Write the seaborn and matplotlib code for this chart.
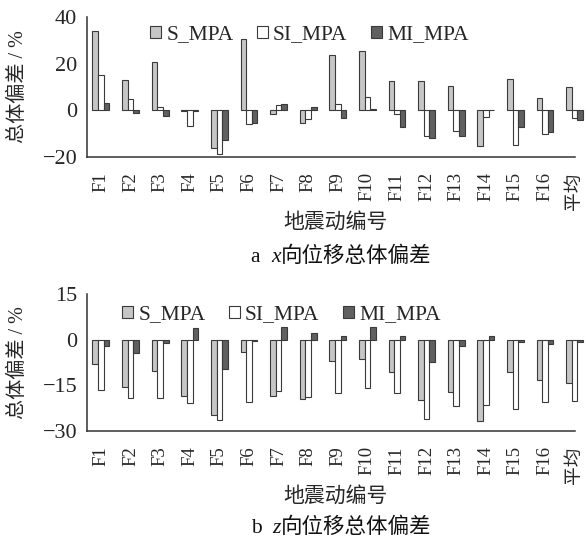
import numpy as np
import pandas as pd
import seaborn as sns
import matplotlib
matplotlib.use("Agg")
import matplotlib.pyplot as plt
from matplotlib.patches import Patch
from matplotlib.offsetbox import TextArea, HPacker, AnchoredOffsetbox

# Ground-motion records
categories = ["F1", "F2", "F3", "F4", "F5", "F6", "F7", "F8", "F9", "F10",
              "F11", "F12", "F13", "F14", "F15", "F16", "平均"]
series_names = ["S_MPA", "SI_MPA", "MI_MPA"]

# Overall deviation of x-direction displacement (%)
x_s_mpa = [34.0, 13.1, 20.6, -0.5, -16.2, 30.7, -1.6, -5.4, 23.5, 25.5,
           12.4, 12.7, 10.5, -15.2, 13.4, 5.4, 10.1]
x_si_mpa = [15.2, 4.8, 1.4, -6.8, -18.6, -5.8, 2.3, -3.6, 2.7, 5.5,
            -1.6, -10.8, -8.8, -2.7, -14.9, -10.2, -3.1]
x_mi_mpa = [3.0, -1.1, -2.6, -0.3, -12.9, -5.4, 2.8, 1.4, -3.1, 0.6,
            -7.1, -11.8, -11.2, 0.3, -7.1, -9.4, -4.1]

# Overall deviation of z-direction displacement (%)
z_s_mpa = [-7.9, -15.4, -10.3, -18.4, -24.9, -4.1, -18.4, -19.5, -7.0, -6.5,
           -10.5, -19.9, -17.3, -26.8, -10.7, -13.3, -14.3]
z_si_mpa = [-16.5, -19.2, -19.2, -20.9, -26.4, -20.5, -16.7, -18.7, -17.4, -16.0,
            -17.6, -25.9, -21.9, -21.6, -22.7, -20.5, -20.1]
z_mi_mpa = [-2.1, -4.3, -1.0, 3.8, -9.5, -0.3, 4.2, 2.3, 1.2, 4.0,
            1.3, -7.3, -2.1, 1.1, -0.8, -1.3, -0.7]

x_ticks = [-20, 0, 20, 40]
z_ticks = [-30, -15, 0, 15]

sns.set_style("white")
SERIF = ["Liberation Serif", "Noto Sans CJK SC"]
plt.rcParams["font.family"] = SERIF
plt.rcParams["axes.unicode_minus"] = True

colors = {"S_MPA": "#c6c6c6", "SI_MPA": "#ffffff", "MI_MPA": "#606060"}
edge = "#3a3a3a"


def long_frame(s, si, mi):
    rows = []
    for name, vals in zip(series_names, (s, si, mi)):
        for c, v in zip(categories, vals):
            rows.append({"record": c, "series": name, "value": v})
    return pd.DataFrame(rows)


fig = plt.figure(figsize=(5.86, 5.40), dpi=100)
W, H = 586, 540
left_px, right_px = 87, 585
xlo, xhi = -0.47, 16.35


def draw_panel(ax, df, yticks, legend_x_px, legend_y_px):
    sns.barplot(data=df, x="record", y="value", hue="series",
                order=categories, hue_order=series_names, palette=colors,
                width=0.57, gap=0, edgecolor=edge, linewidth=0.8,
                errorbar=None, legend=False, ax=ax)
    for p in ax.patches:
        p.set_clip_on(False)
    ax.set_xlim(xlo, xhi)
    ax.set_ylim(yticks[0], yticks[-1])
    ax.set_yticks(yticks)
    ax.set_xticks(range(len(categories)))
    ax.set_xticklabels(categories, rotation=90, fontsize=13.5)
    for lab in ax.get_yticklabels():
        lab.set_fontsize(16)
    ax.tick_params(axis="both", direction="in", length=5, width=1.0,
                   color="#333333")
    ax.tick_params(axis="x", pad=11)
    ax.tick_params(axis="y", pad=7)
    for side in ("top", "right"):
        ax.spines[side].set_visible(False)
    for side in ("left", "bottom"):
        ax.spines[side].set_color("#333333")
        ax.spines[side].set_linewidth(1.1)
    ax.spines["bottom"].set_bounds(xlo, len(categories) - 1)
    ax.set_ylabel("总体偏差 / %", fontsize=14.5)
    ax.yaxis.set_label_coords(-0.118, 0.5)
    ax.set_xlabel("地震动编号", fontsize=15, labelpad=2)

    handles = [Patch(facecolor=colors[n], edgecolor=edge, linewidth=0.8)
               for n in series_names]
    fig.legend(handles, series_names, loc="center left",
               bbox_to_anchor=(legend_x_px / W, 1 - legend_y_px / H),
               bbox_transform=fig.transFigure, ncol=3, frameon=False,
               fontsize=15.5, handlelength=0.5, handleheight=0.5,
               handletextpad=0.25, columnspacing=1.1, borderpad=0,
               borderaxespad=0)


def caption(letter, var, rest, y_px, x_px=341):
    props = dict(fontsize=15.5, family=SERIF, color="#111111")
    parts = [TextArea(letter + "  ", textprops=props),
             TextArea(var, textprops=dict(props, style="italic")),
             TextArea(rest, textprops=props)]
    box = HPacker(children=parts, align="baseline", pad=0, sep=0)
    anchored = AnchoredOffsetbox(loc="center", child=box, pad=0, borderpad=0,
                                 frameon=False,
                                 bbox_to_anchor=(x_px / W, 1 - y_px / H),
                                 bbox_transform=fig.transFigure)
    fig.add_artist(anchored)


ax_x = fig.add_axes([left_px / W, 1 - 157 / H, (right_px - left_px) / W, 140 / H])
ax_x.patch.set_alpha(0)
draw_panel(ax_x, long_frame(x_s_mpa, x_si_mpa, x_mi_mpa), x_ticks, 150, 35)
caption("a", "x", "向位移总体偏差", 257)

ax_z = fig.add_axes([left_px / W, 1 - 431 / H, (right_px - left_px) / W, 137 / H])
ax_z.patch.set_alpha(0)
draw_panel(ax_z, long_frame(z_s_mpa, z_si_mpa, z_mi_mpa), z_ticks, 122, 315)
caption("b", "z", "向位移总体偏差", 528)

fig.savefig("out.png", dpi=100, facecolor="white")
